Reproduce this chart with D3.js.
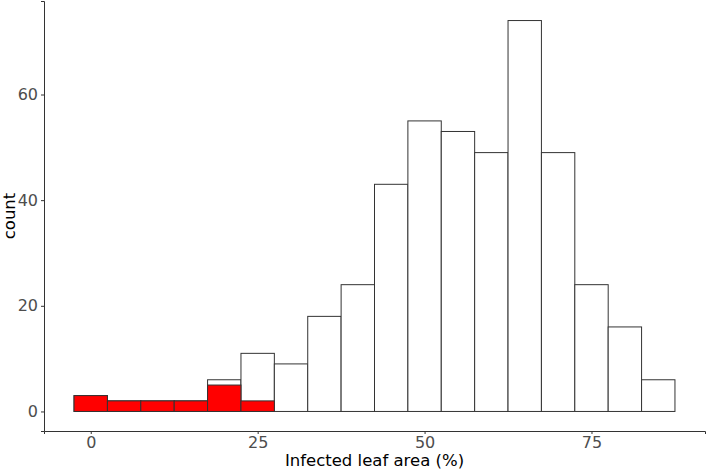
<!DOCTYPE html>
<meta charset="utf-8">
<style>
    body {
        margin: 0;
        background: #fff;
        font-family: "DejaVu Sans", sans-serif;
    }

    .axis path,
    .axis line {
        stroke: #333;
    }

    .axis text {
        fill: #4d4d4d;
        font-size: 16px;
        font-family: "DejaVu Sans", sans-serif;
    }
</style>

<body>
    <script src="https://d3js.org/d3.v7.min.js"></script>
    <script>

        // bin centres (width 5) and counts
        var bins = [0, 5, 10, 15, 20, 25, 30, 35, 40, 45, 50, 55, 60, 65, 70, 75, 80, 85];
        var totalCounts = [3, 2, 2, 2, 6, 11, 9, 18, 24, 43, 55, 53, 49, 74, 49, 24, 16, 6];
        var redCounts = [3, 2, 2, 2, 5, 2, 0, 0, 0, 0, 0, 0, 0, 0, 0, 0, 0, 0];
        var xTicks = [0, 25, 50, 75];
        var yTicks = [0, 20, 40, 60];
        var binWidth = 5;

        var margin = { top: 1, right: 3, bottom: 38, left: 44 },
            width = 708 - margin.left - margin.right,
            height = 469 - margin.top - margin.bottom;

        var svg = d3.select("body").append("svg")
            .attr("width", 708)
            .attr("height", 469)
            .append("g")
            .attr("transform", "translate(" + margin.left + "," + margin.top + ")");

        var x = d3.scaleLinear().domain([-7, 92]).range([0, width]);
        var y = d3.scaleLinear().domain([-3.7, 77.7]).range([height, 0]);

        function drawBars(counts, fill) {
            svg.selectAll(null)
                .data(bins.map(function (b, i) { return { x: b, n: counts[i] }; })
                    .filter(function (d) { return d.n > 0; }))
                .enter()
                .append("rect")
                .attr("x", function (d) { return x(d.x - binWidth / 2); })
                .attr("y", function (d) { return y(d.n); })
                .attr("width", function (d) { return x(d.x + binWidth / 2) - x(d.x - binWidth / 2); })
                .attr("height", function (d) { return y(0) - y(d.n); })
                .attr("fill", fill)
                .attr("stroke", "#333")
                .attr("stroke-width", 1);
        }

        drawBars(totalCounts, "#fff");
        drawBars(redCounts, "#ff0000");

        svg.append("g")
            .attr("class", "axis")
            .attr("transform", "translate(0," + height + ")")
            .call(d3.axisBottom(x).tickValues(xTicks).tickSizeOuter(0).tickSize(3).tickPadding(3));

        svg.append("g")
            .attr("class", "axis")
            .call(d3.axisLeft(y).tickValues(yTicks).tickSizeOuter(0).tickSize(3).tickPadding(3));

        svg.append("text")
            .attr("x", width / 2)
            .attr("y", height + 35)
            .attr("text-anchor", "middle")
            .attr("font-size", 16.5)
            .attr("fill", "#000")
            .text("Infected leaf area (%)");

        svg.append("text")
            .attr("transform", "translate(" + (-29) + "," + (height / 2) + ")rotate(-90)")
            .attr("text-anchor", "middle")
            .attr("font-size", 16.5)
            .attr("fill", "#000")
            .text("count");

    </script>
</body>
